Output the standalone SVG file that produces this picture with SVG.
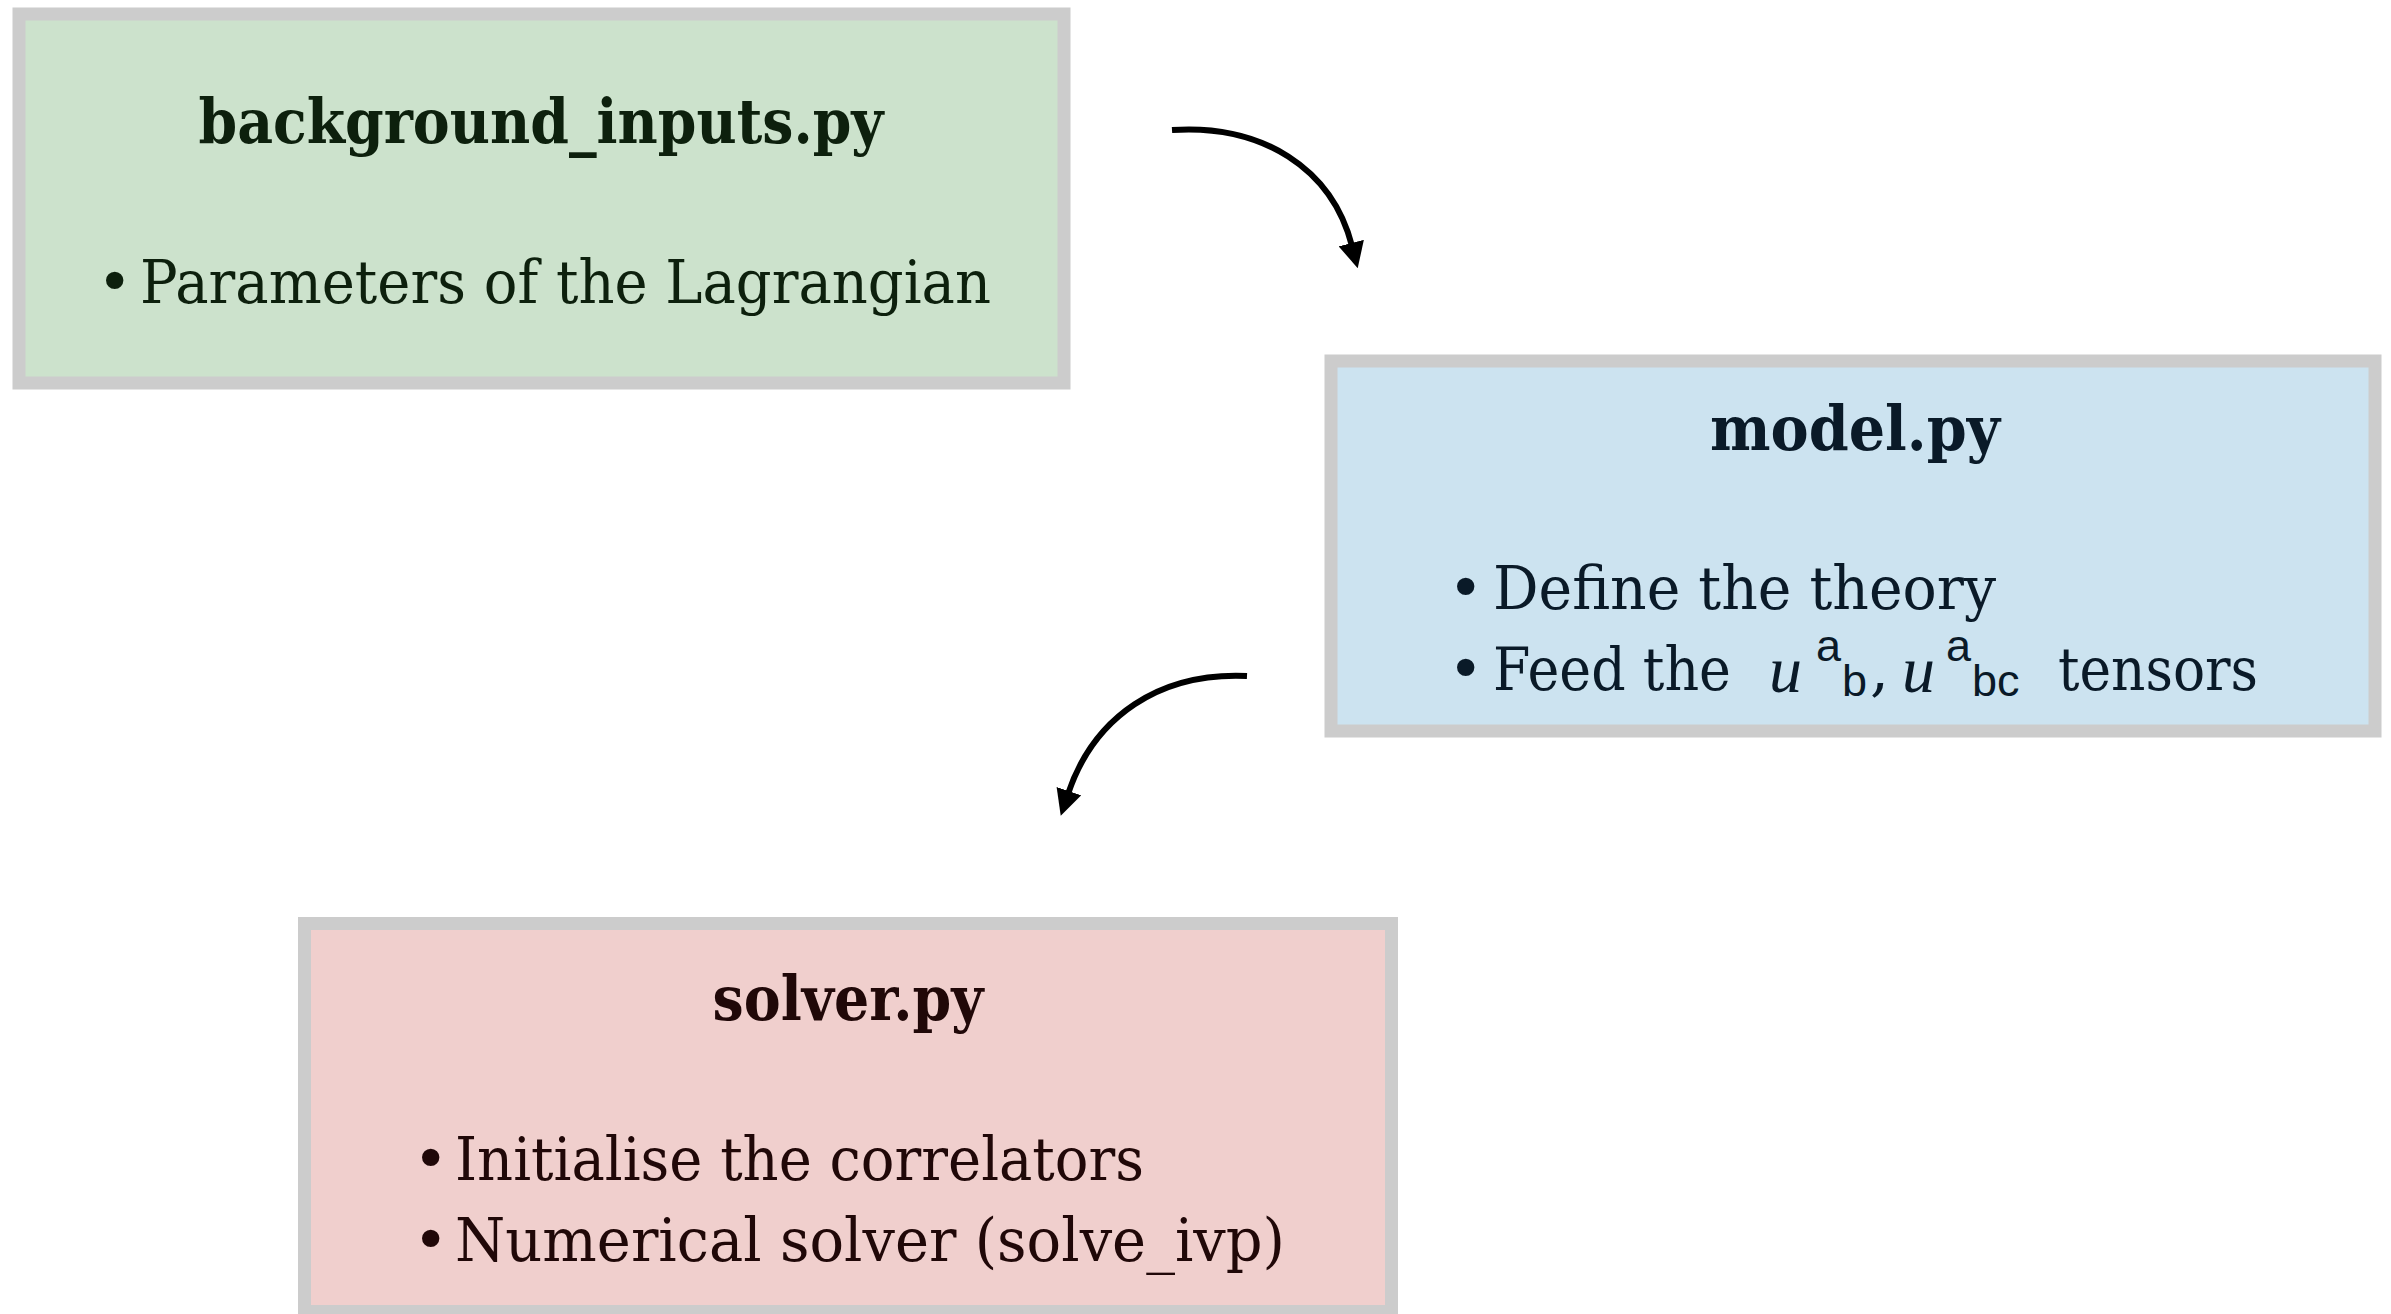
<svg xmlns="http://www.w3.org/2000/svg" width="2391" height="1314" viewBox="0 0 2391 1314">
  <style>
    .box { stroke: #cccccc; stroke-width: 13; }
    .title { font-family: "DejaVu Serif", "Liberation Serif", serif; font-weight: bold; font-size: 62px; text-anchor: middle; }
    .body { font-family: "DejaVu Serif", "Liberation Serif", serif; font-size: 60px; }
    .mi { font-family: "Liberation Serif", "DejaVu Serif", serif; font-style: italic; font-size: 66px; }
    .ms { font-family: "Liberation Sans", "DejaVu Sans", sans-serif; font-size: 45px; font-style: normal; }
    .mc { font-family: "DejaVu Serif", "Liberation Serif", serif; font-size: 60px; font-style: normal; }
    .conn { fill: none; stroke: #000000; stroke-width: 6; }
  </style>
  <defs>
    <marker id="arrow" markerUnits="userSpaceOnUse" viewBox="0 0 26 26" markerWidth="26" markerHeight="26" refX="3" refY="13" orient="auto">
      <path d="M0,0 L26,13 L0,26 z" fill="#000000"/>
    </marker>
  </defs>
  <rect width="2391" height="1314" fill="#ffffff"/>

  <g id="node-background">
    <rect class="box" x="19" y="14" width="1045" height="369" fill="#cce2cc"/>
    <g fill="#0d200d">
      <text class="title" x="541" y="143" textLength="685" lengthAdjust="spacingAndGlyphs">background_inputs.py</text>
      <text class="body" x="97" y="303">•</text>
      <text class="body" x="140" y="303" textLength="851" lengthAdjust="spacingAndGlyphs">Parameters of the Lagrangian</text>
    </g>
  </g>

  <g id="node-model">
    <rect class="box" x="1331" y="361" width="1044" height="370" fill="#cce3f0"/>
    <g fill="#0a1a28">
      <text class="title" x="1855" y="450" textLength="290" lengthAdjust="spacingAndGlyphs">model.py</text>
      <text class="body" x="1448" y="609">•</text>
      <text class="body" x="1493" y="609" textLength="503" lengthAdjust="spacingAndGlyphs">Define the theory</text>
      <text class="body" x="1448" y="690">•</text>
      <text class="body" x="1493" y="690" textLength="238" lengthAdjust="spacingAndGlyphs">Feed the</text>
      <text class="mi" x="1769" y="692">u<tspan class="ms" x="1816" y="661">a</tspan><tspan class="ms" x="1842" y="696">b</tspan><tspan class="mc" x="1870" y="690">,</tspan><tspan x="1902" y="692">u</tspan><tspan class="ms" x="1946" y="661">a</tspan><tspan class="ms" x="1972" y="696">bc</tspan></text>
      <text class="body" x="2058" y="690" textLength="200" lengthAdjust="spacingAndGlyphs">tensors</text>
    </g>
  </g>

  <g id="node-solver">
    <rect class="box" x="304.5" y="923.5" width="1087" height="388" fill="#f0cfcd"/>
    <g fill="#200808">
      <text class="title" x="848" y="1020" textLength="271" lengthAdjust="spacingAndGlyphs">solver.py</text>
      <text class="body" x="413" y="1180">•</text>
      <text class="body" x="455" y="1180" textLength="689" lengthAdjust="spacingAndGlyphs">Initialise the correlators</text>
      <text class="body" x="413" y="1261">•</text>
      <text class="body" x="455" y="1261" textLength="830" lengthAdjust="spacingAndGlyphs">Numerical solver (solve_ivp)</text>
    </g>
  </g>

  <g id="connectors">
    <path class="conn" d="M1172,130 C1262,124 1332,168 1352,246" marker-end="url(#arrow)"/>
    <path class="conn" d="M1247,676 C1160,672 1094,716 1068,794" marker-end="url(#arrow)"/>
  </g>
</svg>
